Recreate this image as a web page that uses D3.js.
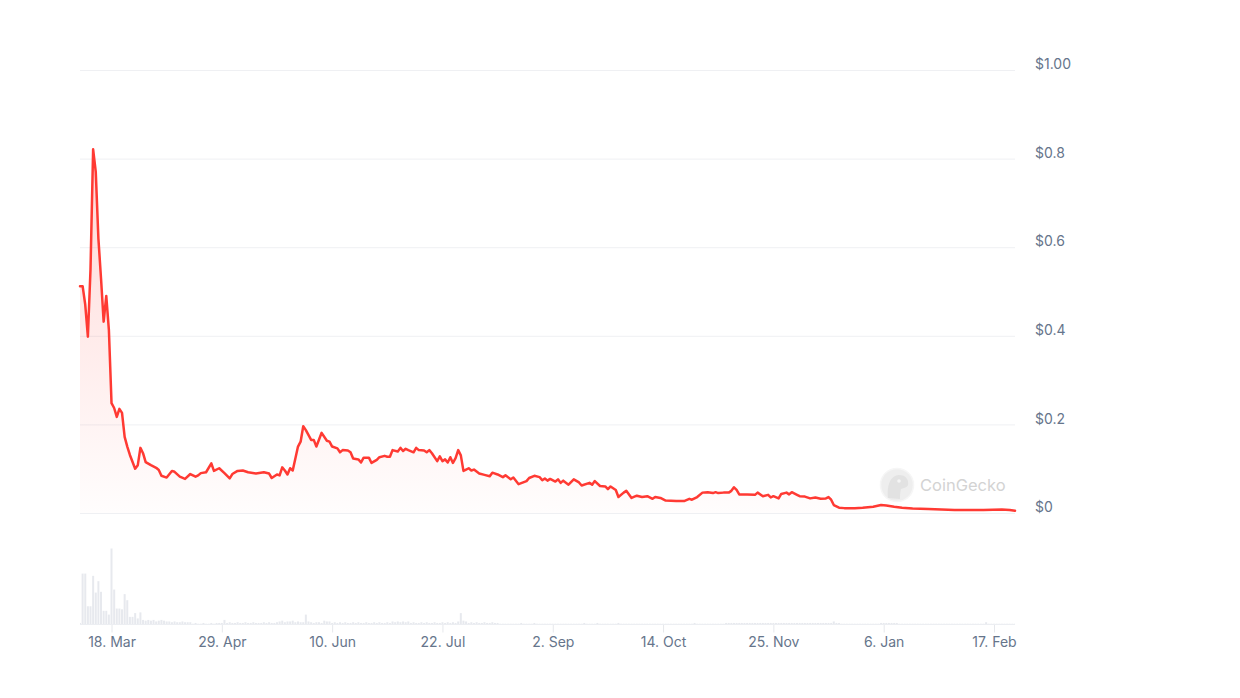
<!DOCTYPE html>
<html>
<head>
<meta charset="utf-8">
<script src="https://cdn.jsdelivr.net/npm/d3@7"></script>
<style>
  html, body { margin: 0; padding: 0; background: #ffffff; }
  svg { display: block; font-family: Inter, "Noto Sans", sans-serif; }
</style>
</head>
<body>
<svg id="chart" width="1240" height="698"></svg>
<script>
// Price / volume data (day offsets from the first date)
const startDate = new Date(2023, 2, 6);

const priceDays = [
  0, 1, 2, 3, 4, 5, 6, 7, 8, 9, 10, 11, 12, 13, 14, 15, 16, 17, 18, 19,
  21, 22, 23, 24, 25, 27, 29, 30, 31, 33, 35, 36, 38, 40, 42, 44, 45, 46, 48, 50,
  51, 53, 55, 57, 58, 60, 62, 64, 67, 70, 72, 73, 75, 76, 77, 78, 79, 80, 81, 83,
  84, 85, 86, 88, 89, 90, 92, 94, 95, 96, 98, 99, 100, 102, 103, 104, 106, 107, 108, 110,
  111, 113, 114, 116, 117, 118, 119, 121, 122, 123, 124, 125, 127, 128, 129, 131, 132, 133, 134, 136,
  137, 138, 139, 140, 141, 142, 143, 144, 145, 146, 147, 148, 149, 150, 152, 154, 156, 157, 159, 161,
  162, 164, 165, 167, 170, 171, 173, 175, 176, 177, 178, 179, 181, 182, 183, 184, 186, 188, 190, 191,
  194, 195, 196, 198, 200, 201, 202, 204, 205, 207, 208, 210, 212, 214, 216, 218, 219, 221, 223, 227,
  230, 232, 233, 235, 237, 239, 241, 242, 243, 245, 247, 248, 249, 250, 251, 254, 257, 258, 260, 262,
  263, 264, 266, 267, 269, 270, 271, 273, 274, 276, 278, 280, 282, 284, 285, 286, 287, 289, 291, 295,
  298, 302, 305, 307, 310, 313, 317, 323, 328, 333, 338, 344, 351, 354, 356
];

const prices = [
  0.512, 0.512, 0.47, 0.398, 0.55, 0.821, 0.77, 0.62, 0.53, 0.432, 0.49, 0.413, 0.248, 0.237, 0.217, 0.235, 0.226, 0.172, 0.15, 0.131,
  0.100, 0.108, 0.147, 0.135, 0.115, 0.108, 0.102, 0.097, 0.084, 0.080, 0.095, 0.093, 0.082, 0.077, 0.088, 0.082, 0.085, 0.090, 0.092, 0.112,
  0.095, 0.101, 0.090, 0.078, 0.088, 0.095, 0.096, 0.092, 0.089, 0.092, 0.089, 0.079, 0.087, 0.085, 0.103, 0.096, 0.087, 0.101, 0.096, 0.150,
  0.161, 0.196, 0.187, 0.165, 0.165, 0.150, 0.181, 0.163, 0.161, 0.150, 0.146, 0.137, 0.142, 0.141, 0.137, 0.123, 0.121, 0.114, 0.125, 0.125,
  0.113, 0.120, 0.126, 0.129, 0.127, 0.127, 0.142, 0.139, 0.147, 0.140, 0.145, 0.142, 0.137, 0.147, 0.142, 0.141, 0.137, 0.142, 0.135, 0.117,
  0.128, 0.117, 0.121, 0.114, 0.126, 0.113, 0.124, 0.142, 0.130, 0.095, 0.098, 0.101, 0.096, 0.098, 0.089, 0.086, 0.083, 0.091, 0.087, 0.081,
  0.085, 0.076, 0.080, 0.065, 0.072, 0.079, 0.084, 0.081, 0.074, 0.078, 0.073, 0.077, 0.071, 0.076, 0.068, 0.073, 0.064, 0.076, 0.069, 0.062,
  0.068, 0.064, 0.072, 0.061, 0.060, 0.054, 0.060, 0.052, 0.036, 0.046, 0.050, 0.034, 0.039, 0.036, 0.038, 0.032, 0.036, 0.034, 0.028, 0.027,
  0.027, 0.032, 0.030, 0.036, 0.046, 0.047, 0.045, 0.047, 0.045, 0.046, 0.046, 0.050, 0.058, 0.052, 0.042, 0.042, 0.041, 0.046, 0.038, 0.041,
  0.035, 0.038, 0.033, 0.043, 0.046, 0.042, 0.047, 0.041, 0.038, 0.037, 0.033, 0.035, 0.032, 0.033, 0.036, 0.030, 0.018, 0.012, 0.011, 0.011,
  0.012, 0.014, 0.018, 0.017, 0.014, 0.012, 0.010, 0.009, 0.008, 0.007, 0.007, 0.007, 0.008, 0.007, 0.005
];

// daily volume, relative units (tallest bar = 100)
const volumes = [
  2, 67, 67, 24, 24, 64, 42, 57, 43, 18, 18, 13, 100, 46, 21, 21, 20, 40, 32, 10,
  10, 15, 8, 16, 6, 5, 6, 5, 6, 4, 5, 6, 5, 4, 4, 3, 4, 3, 3, 4,
  3, 3, 3, 1, 2, 1, 1, 2, 1, 1, 2, 1, 2, 2, 2, 6, 2, 3, 2, 2,
  3, 2, 2, 3, 2, 2, 3, 2, 2, 2, 3, 2, 3, 2, 2, 3, 4, 5, 3, 4,
  4, 5, 3, 4, 3, 3, 13, 4, 3, 2, 3, 3, 2, 5, 4, 4, 2, 3, 2, 3,
  2, 3, 2, 2, 3, 2, 3, 2, 2, 3, 2, 2, 3, 2, 3, 2, 2, 3, 2, 4,
  3, 4, 3, 4, 3, 4, 2, 3, 2, 2, 3, 2, 3, 2, 2, 3, 2, 2, 3, 2,
  3, 2, 3, 2, 4, 15, 5, 4, 2, 3, 2, 3, 2, 2, 3, 2, 2, 3, 2, 2,
  1, 1, 1, 1, 1, 1, 1, 1, 2, 1, 1, 1, 1, 2, 1, 1, 1, 1, 1, 1,
  1, 1, 1, 1, 1, 1, 1, 1, 1, 1, 1, 1, 2, 1, 1, 1, 1, 2, 1, 1,
  1, 1, 1, 1, 1, 2, 1, 1, 1, 1, 1, 1, 1, 1, 1, 1, 1, 1, 1, 1,
  1, 1, 1, 1, 1, 1, 1, 1, 1, 1, 1, 1, 1, 1, 2, 1, 1, 1, 1, 1,
  1, 1, 1, 1, 1, 1, 2, 2, 2, 2, 2, 2, 2, 2, 2, 2, 2, 2, 2, 2,
  2, 2, 2, 2, 2, 2, 2, 2, 2, 2, 2, 2, 2, 2, 2, 2, 2, 2, 2, 2,
  2, 2, 2, 2, 2, 2, 2, 4, 2, 2, 1, 1, 1, 1, 1, 1, 1, 1, 1, 1,
  1, 1, 1, 1, 1, 2, 2, 2, 2, 2, 2, 2, 1, 1, 1, 1, 1, 1, 1, 1,
  1, 1, 1, 1, 1, 1, 1, 1, 1, 1, 1, 1, 1, 1, 1, 1, 1, 1, 1, 1,
  1, 1, 1, 1, 1, 3, 1, 1, 1, 1, 1, 1, 1, 1, 1, 1, 1
];

const priceTicks = [0, 0.2, 0.4, 0.6, 0.8, 1.0];
const priceTickLabels = ['$0', '$0.2', '$0.4', '$0.6', '$0.8', '$1.00'];
const dateTicks = ['2023-03-18', '2023-04-29', '2023-06-10', '2023-07-22', '2023-09-02',
  '2023-10-14', '2023-11-25', '2024-01-06', '2024-02-17'];

function dayToDate(d) {
  return d3.timeDay.offset(startDate, d);
}

// Layout
const svg = d3.select('#chart');
const left = 80, right = 1015;
const priceTop = 70, priceBottom = 513;
const volTop = 548.5, volBottom = 624.5;

const x = d3.scaleTime()
  .domain([startDate, dayToDate(priceDays[priceDays.length - 1])])
  .range([left, right]);

const y = d3.scaleLinear().domain([0, 1]).range([priceBottom, priceTop]);
const yVol = d3.scaleLinear().domain([0, 100]).range([volBottom, volTop]);

const priceData = priceDays.map((d, i) => ({ date: dayToDate(d), value: prices[i] }));
const volData = volumes.map((v, i) => ({ date: dayToDate(i), value: v }));

// Gradient for area fill
const defs = svg.append('defs');
const grad = defs.append('linearGradient')
  .attr('id', 'areaGrad')
  .attr('gradientUnits', 'userSpaceOnUse')
  .attr('x1', 0).attr('x2', 0)
  .attr('y1', y(0.82)).attr('y2', y(0));
grad.append('stop').attr('offset', '0%').attr('stop-color', '#ff3a33').attr('stop-opacity', 0.2);
grad.append('stop').attr('offset', '100%').attr('stop-color', '#ff3a33').attr('stop-opacity', 0.01);

defs.append('clipPath').attr('id', 'plotClip')
  .append('rect').attr('x', left).attr('y', 0).attr('width', right - left).attr('height', 698);

// Gridlines
svg.append('g')
  .attr('transform', `translate(${left},0)`)
  .call(d3.axisRight(y).tickValues(priceTicks).tickSize(right - left).tickFormat(''))
  .call(g => g.select('.domain').remove())
  .call(g => g.selectAll('line').attr('stroke', '#eff0f3').attr('stroke-width', 1));

// Price axis labels (right)
svg.append('g')
  .attr('transform', `translate(${right},0)`)
  .call(d3.axisRight(y).tickValues(priceTicks).tickSize(0).tickPadding(20)
    .tickFormat((d, i) => priceTickLabels[i]))
  .call(g => g.select('.domain').remove())
  .call(g => g.selectAll('text')
    .attr('fill', '#66758b')
    .attr('font-size', 14)
    .attr('font-family', 'Inter, "Noto Sans", sans-serif')
    .attr('dy', '-0.1em'));

// Volume bars
const barW = 2;
svg.append('g')
  .attr('clip-path', 'url(#plotClip)')
  .selectAll('rect')
  .data(volData)
  .join('rect')
  .attr('x', d => x(d.date) - barW / 2)
  .attr('y', d => yVol(d.value))
  .attr('width', barW)
  .attr('height', d => volBottom - yVol(d.value))
  .attr('fill', '#e4e7ec')
  .attr('opacity', 0.9);

// Date axis
svg.append('g')
  .attr('transform', `translate(0,${volBottom})`)
  .call(d3.axisBottom(x)
    .tickValues(dateTicks.map(s => d3.timeParse('%Y-%m-%d')(s)))
    .tickSize(8).tickPadding(5)
    .tickFormat(d3.timeFormat('%-d. %b')))
  .call(g => g.select('.domain').remove())
  .call(g => g.selectAll('line').attr('stroke', '#e6e8ec'))
  .call(g => g.selectAll('text')
    .attr('fill', '#66758b')
    .attr('font-size', 14)
    .attr('font-family', 'Inter, "Noto Sans", sans-serif'));

svg.append('line')
  .attr('x1', left).attr('x2', right)
  .attr('y1', volBottom).attr('y2', volBottom)
  .attr('stroke', '#eceef2');

// Watermark
const wm = svg.append('g').attr('transform', 'translate(897,485)');
wm.append('circle').attr('r', 16.5).attr('fill', '#eeeeee').attr('stroke', '#f6f6f6').attr('stroke-width', 1.5);
wm.append('path')
  .attr('d', 'M-9,13 C-10,2 -8,-9 2,-10 C9,-10 12,-5 11,0 C10,3 6,3 4,4 C3,8 3,11 3,14 Z')
  .attr('fill', '#e2e2e2');
wm.append('circle').attr('cx', 2).attr('cy', -4).attr('r', 1.8).attr('fill', '#f5f5f5');
svg.append('text')
  .attr('x', 920).attr('y', 491)
  .attr('font-size', 16.5)
  .attr('font-family', 'Inter, "Noto Sans", sans-serif')
  .attr('fill', '#d3d3d3')
  .text('CoinGecko');

// Area + line
const area = d3.area()
  .x(d => x(d.date))
  .y0(y(0))
  .y1(d => y(d.value));

const line = d3.line()
  .x(d => x(d.date))
  .y(d => y(d.value));

svg.append('path')
  .datum(priceData)
  .attr('d', area)
  .attr('fill', 'url(#areaGrad)');

svg.append('path')
  .datum(priceData)
  .attr('d', line)
  .attr('fill', 'none')
  .attr('stroke', '#ff3a33')
  .attr('stroke-width', 2.5)
  .attr('stroke-linejoin', 'round')
  .attr('stroke-linecap', 'round');
</script>
</body>
</html>
